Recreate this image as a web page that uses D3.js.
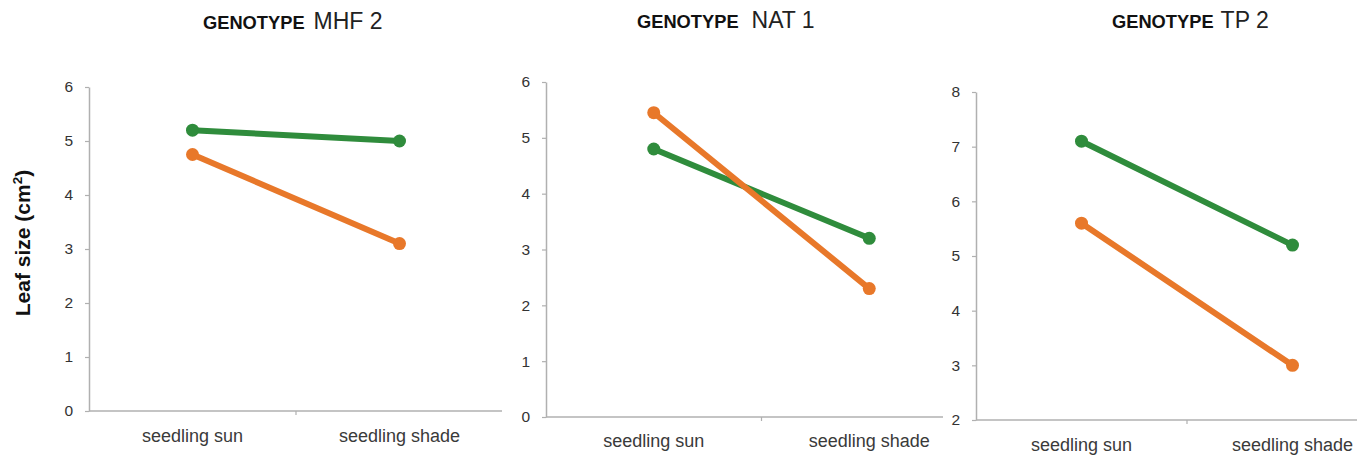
<!DOCTYPE html>
<html>
<head>
<meta charset="utf-8">
<script src="https://cdn.jsdelivr.net/npm/d3@7"></script>
<style>
  html, body { margin: 0; padding: 0; background: #fff; }
  svg { display: block; font-family: "Liberation Sans", Arial, sans-serif; }
</style>
</head>
<body>
<svg id="chart" width="1372" height="459"></svg>
<script>
// ---- data ----
const categories = ["seedling sun", "seedling shade"];
const genotypes = ["MHF 2", "NAT 1", "TP 2"];
const greenMHF2 = [5.2, 5.0];
const orangeMHF2 = [4.75, 3.1];
const greenNAT1 = [4.8, 3.2];
const orangeNAT1 = [5.45, 2.3];
const greenTP2 = [7.1, 5.2];
const orangeTP2 = [5.6, 3.0];
const yTicksMHF2 = [0, 1, 2, 3, 4, 5, 6];
const yTicksNAT1 = [0, 1, 2, 3, 4, 5, 6];
const yTicksTP2 = [2, 3, 4, 5, 6, 7, 8];
const yLabel = "Leaf size (cm";

// ---- layout ----
const GREEN = "#2f8c3c";
const ORANGE = "#e8782a";
const AXIS = "#b0b0b0";
const panels = [
  { name: genotypes[0], green: greenMHF2, orange: orangeMHF2, ticks: yTicksMHF2,
    x0: 89, x1: 503, lineEnd: 502, yTop: 87, yBot: 411, titleX: 203, titleY: 29, labGap: 9, xPad: 18 },
  { name: genotypes[1], green: greenNAT1, orange: orangeNAT1, ticks: yTicksNAT1,
    x0: 546, x1: 977, lineEnd: 943, yTop: 82, yBot: 417, titleX: 637, titleY: 28, labGap: 13, xPad: 17 },
  { name: genotypes[2], green: greenTP2, orange: orangeTP2, ticks: yTicksTP2,
    x0: 976, x1: 1398, lineEnd: 1357, yTop: 92, yBot: 420, titleX: 1112, titleY: 28, labGap: 7, xPad: 18 }
];

const svg = d3.select("#chart");

panels.forEach(p => {
  const g = svg.append("g");
  const x = d3.scaleBand().domain(categories).range([p.x0, p.x1]);
  const y = d3.scaleLinear().domain(d3.extent(p.ticks)).range([p.yBot, p.yTop]);

  // y axis
  const ya = g.append("g")
    .attr("transform", `translate(${p.x0},0)`)
    .call(d3.axisLeft(y).tickValues(p.ticks).tickFormat(d3.format("d"))
      .tickSize(4).tickSizeOuter(0).tickPadding(12));
  ya.select(".domain").attr("stroke", AXIS).attr("stroke-width", 1.5);
  ya.selectAll(".tick line").attr("stroke", AXIS).attr("stroke-width", 1.2);
  ya.selectAll(".tick text").attr("fill", "#333").attr("font-size", 15.5);

  // x axis
  const xa = g.append("g")
    .attr("transform", `translate(0,${p.yBot})`)
    .call(d3.axisBottom(x).tickSize(0).tickPadding(p.xPad));
  xa.select(".domain").attr("d", `M${p.x0},0H${p.lineEnd}`)
    .attr("stroke", AXIS).attr("stroke-width", 1.5);
  xa.selectAll(".tick text").attr("fill", "#3a3a3a").attr("font-size", 18);
  xa.append("line")
    .attr("x1", x(categories[1])).attr("x2", x(categories[1]))
    .attr("y1", 0).attr("y2", 4)
    .attr("stroke", AXIS).attr("stroke-width", 1.2);

  // title
  const t = g.append("text")
    .attr("x", p.titleX).attr("y", p.titleY).attr("fill", "#111");
  t.append("tspan").attr("font-weight", "bold").attr("font-size", 18.3).text("GENOTYPE");
  t.append("tspan").attr("dx", p.labGap).attr("font-size", 23).attr("fill", "#222").text(p.name);

  // lines
  const cx = c => x(c) + x.bandwidth() / 2;
  [[p.green, GREEN], [p.orange, ORANGE]].forEach(([vals, col]) => {
    const pts = categories.map((c, i) => [cx(c), y(vals[i])]);
    g.append("path")
      .attr("d", d3.line()(pts))
      .attr("fill", "none").attr("stroke", col).attr("stroke-width", 6)
      .attr("stroke-linecap", "round");
    g.selectAll(null).data(pts).enter().append("circle")
      .attr("cx", d => d[0]).attr("cy", d => d[1]).attr("r", 6.5).attr("fill", col);
  });
});

// y axis title
const yt = svg.append("text")
  .attr("transform", "translate(30,243) rotate(-90)")
  .attr("text-anchor", "middle")
  .attr("font-weight", "bold").attr("font-size", 21).attr("fill", "#111");
yt.append("tspan").text(yLabel);
yt.append("tspan").attr("font-size", 13.5).attr("dy", -8).text("2");
yt.append("tspan").attr("dy", 8).text(")");
</script>
</body>
</html>
